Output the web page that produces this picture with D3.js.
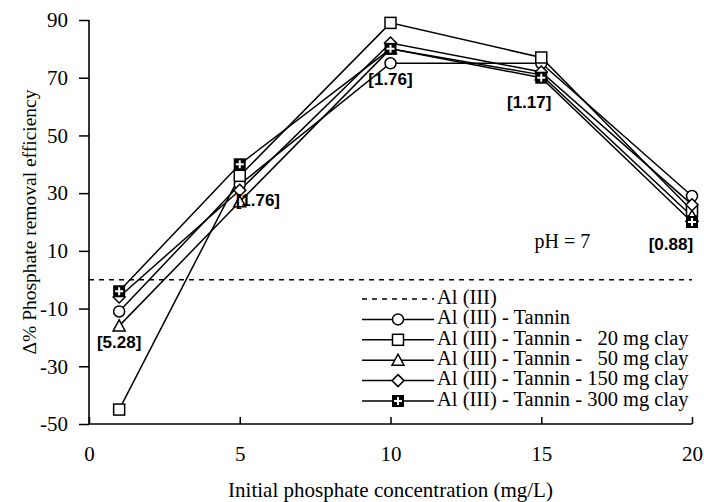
<!DOCTYPE html>
<html>
<head>
<meta charset="utf-8">
<script src="https://cdn.jsdelivr.net/npm/d3@7"></script>
<style>
body{margin:0;background:#fff;}
svg{display:block;}
</style>
</head>
<body>
<svg class="chart" width="704" height="502"></svg>
<script>
// data
var concentrations = [1,5,10,15,20];
var tannin      = [-11,33,75,75,29];
var clay20      = [-45,36,89,77,24];
var clay50      = [-16,27,80,71,22];
var clay150     = [-6,31,82,72,26];
var clay300     = [-4,40,80,70,20];
var alOnly      = 0;
var xTicks = [0,5,10,15,20];
var yTicks = [-50,-30,-10,10,30,50,70,90];
var doseLabels = [
	{x:1, y:-22, t:'[5.28]'},
	{x:5.6, y:27, t:'[1.76]'},
	{x:10, y:69, t:'[1.76]'},
	{x:14.6, y:61, t:'[1.17]'},
	{x:19.3, y:12, t:'[0.88]'}
];

var series = [
	{name:'Al (III) - Tannin', vals:tannin, marker:'circle'},
	{name:'Al (III) - Tannin -   20 mg clay', vals:clay20, marker:'square'},
	{name:'Al (III) - Tannin -   50 mg clay', vals:clay50, marker:'triangle'},
	{name:'Al (III) - Tannin - 150 mg clay', vals:clay150, marker:'diamond'},
	{name:'Al (III) - Tannin - 300 mg clay', vals:clay300, marker:'plus'}
];

var config = {left:89, top:20, width:603, height:404};
var serif = 'Liberation Serif, Times New Roman, serif';

var svg = d3.select('.chart');
var g = svg.append('g').attr('transform','translate('+config.left+','+config.top+')');

var xScale = d3.scaleLinear().domain([0,20]).range([0,config.width]);
var yScale = d3.scaleLinear().domain([-50,90]).range([config.height,0]);

var xAxisGen = d3.axisBottom(xScale).tickValues(xTicks).tickSize(-7).tickPadding(22).tickFormat(function(d){return String(d);});
var yAxisGen = d3.axisLeft(yScale).tickValues(yTicks).tickSize(10).tickPadding(11).tickFormat(function(d){return String(d);});

var xAx = g.append('g').attr('transform','translate(0,'+config.height+')').call(xAxisGen);
var yAx = g.append('g').call(yAxisGen);
[xAx,yAx].forEach(function(a){
	a.attr('font-family',serif).attr('font-size',21);
	a.selectAll('.tick text').attr('fill','#000');
	a.select('.domain').attr('stroke','#000').attr('stroke-width',1.6);
	a.selectAll('.tick line').attr('stroke','#000').attr('stroke-width',1.5);
});
yAx.select('.domain').attr('d','M0,0V'+config.height);
xAx.select('.domain').attr('d','M0,0H'+config.width);

// Al(III) reference
g.append('line')
	.attr('x1',0).attr('x2',config.width)
	.attr('y1',yScale(alOnly)).attr('y2',yScale(alOnly))
	.attr('stroke','#000').attr('stroke-width',1.5)
	.attr('stroke-dasharray','5,5');

var line = d3.line().x(function(d,i){return xScale(concentrations[i]);}).y(function(d){return yScale(d);});

function drawMarker(sel,type){
	if(type=='circle'){
		sel.append('circle').attr('r',5.5).attr('fill','#fff').attr('stroke','#000').attr('stroke-width',1.5);
	}else if(type=='square'){
		sel.append('rect').attr('x',-5.5).attr('y',-5.5).attr('width',11).attr('height',11).attr('fill','#fff').attr('stroke','#000').attr('stroke-width',1.5);
	}else if(type=='triangle'){
		sel.append('path').attr('d','M0,-6L6,5H-6Z').attr('fill','#fff').attr('stroke','#000').attr('stroke-width',1.5);
	}else if(type=='diamond'){
		sel.append('path').attr('d','M0,-6L6,0L0,6L-6,0Z').attr('fill','#fff').attr('stroke','#000').attr('stroke-width',1.5);
	}else{
		sel.append('rect').attr('x',-6).attr('y',-6).attr('width',12).attr('height',12).attr('fill','#000');
		sel.append('path').attr('d','M0,-4V4M-4,0H4').attr('stroke','#fff').attr('stroke-width',2);
	}
}

series.forEach(function(s){
	g.append('path').datum(s.vals)
		.attr('d',line)
		.attr('fill','none').attr('stroke','#000').attr('stroke-width',1.5);
});
series.forEach(function(s){
	g.selectAll(null).data(s.vals).enter().append('g')
		.attr('transform',function(d,i){return 'translate('+xScale(concentrations[i])+','+yScale(d)+')';})
		.each(function(){drawMarker(d3.select(this),s.marker);});
});

// dose annotations
g.selectAll('.dose').data(doseLabels).enter().append('text')
	.attr('class','dose')
	.attr('x',function(d){return xScale(d.x);})
	.attr('y',function(d){return yScale(d.y);})
	.attr('text-anchor','middle').attr('dominant-baseline','middle')
	.attr('font-family','Liberation Sans, Arial, sans-serif')
	.attr('font-weight','bold').attr('font-size',17)
	.text(function(d){return d.t;});

g.append('text')
	.attr('x',xScale(15.7)).attr('y',yScale(12.5))
	.attr('text-anchor','middle').attr('dominant-baseline','middle')
	.attr('font-family',serif).attr('font-size',20)
	.text('pH = 7');

// legend
var legend = svg.append('g').attr('transform','translate(362,299)');
var rowH = 20.4;
var legendRows = [{name:'Al (III)', marker:null}].concat(series);
legendRows.forEach(function(r,i){
	var row = legend.append('g').attr('transform','translate(0,'+i*rowH+')');
	row.append('line').attr('x1',0).attr('x2',72).attr('y1',0).attr('y2',0)
		.attr('stroke','#000').attr('stroke-width',1.5)
		.attr('stroke-dasharray',r.marker ? null : '5,5');
	if(r.marker){
		drawMarker(row.append('g').attr('transform','translate(36,0)'),r.marker);
	}
	row.append('text').attr('x',75).attr('y',0)
		.attr('dominant-baseline','middle')
		.attr('font-family',serif).attr('font-size',20.5)
		.style('white-space','pre')
		.text(r.name);
});

// axis titles
svg.append('text')
	.attr('x',config.left+config.width/2).attr('y',497)
	.attr('text-anchor','middle')
	.attr('font-family',serif).attr('font-size',21)
	.text('Initial phosphate concentration (mg/L)');
svg.append('text')
	.attr('transform','translate(36,'+(config.top+config.height/2)+') rotate(-90)')
	.attr('text-anchor','middle')
	.attr('font-family',serif).attr('font-size',19.5)
	.text('Δ% Phosphate removal efficiency');
</script>
</body>
</html>
